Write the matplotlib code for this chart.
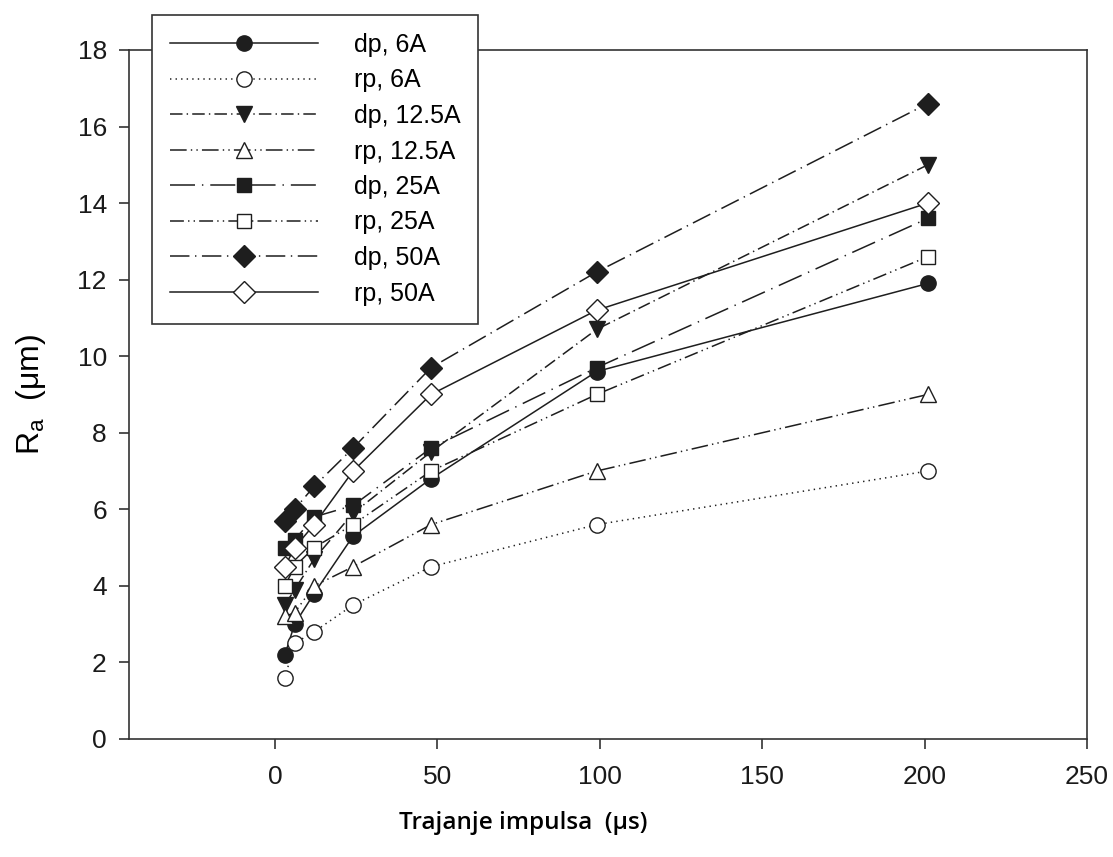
import matplotlib.pyplot as plt

plt.rcParams['font.family'] = ['Liberation Sans', 'DejaVu Sans']
plt.rcParams['lines.scale_dashes'] = False

# pulse duration (us)
t = [3, 6, 12, 24, 48, 99, 201]

dp_6 = [2.2, 3.0, 3.8, 5.3, 6.8, 9.6, 11.9]
rp_6 = [1.6, 2.5, 2.8, 3.5, 4.5, 5.6, 7.0]
dp_125 = [3.5, 3.9, 4.7, 5.9, 7.5, 10.7, 15.0]
rp_125 = [3.2, 3.3, 4.0, 4.5, 5.6, 7.0, 9.0]
dp_25 = [5.0, 5.2, 5.8, 6.1, 7.6, 9.7, 13.6]
rp_25 = [4.0, 4.5, 5.0, 5.6, 7.0, 9.0, 12.6]
dp_50 = [5.7, 6.0, 6.6, 7.6, 9.7, 12.2, 16.6]
rp_50 = [4.5, 5.0, 5.6, 7.0, 9.0, 11.2, 14.0]

labels = ['dp, 6A', 'rp, 6A', 'dp, 12.5A', 'rp, 12.5A',
          'dp, 25A', 'rp, 25A', 'dp, 50A', 'rp, 50A']

fig = plt.figure(figsize=(11.13, 8.57), dpi=100)
ax = fig.add_axes([0.1159, 0.1377, 0.8607, 0.804])

c = '#1e1e1e'
lw = 1.1
ax.plot(t, dp_6, '-', color=c, lw=lw, marker='o', ms=11, mfc=c, mec=c, label=labels[0])
ax.plot(t, rp_6, color=c, lw=lw, ls=(0, (1, 3)), marker='o', ms=11, mfc='white', mec=c, label=labels[1])
ax.plot(t, dp_125, color=c, lw=lw, ls=(0, (9, 3, 1, 3)), marker='v', ms=12, mfc=c, mec=c, label=labels[2])
ax.plot(t, rp_125, color=c, lw=lw, ls=(0, (12, 3, 1, 3, 1, 3)), marker='^', ms=12, mfc='white', mec=c, label=labels[3])
ax.plot(t, dp_25, color=c, lw=lw, ls=(0, (18, 5, 1, 5)), marker='s', ms=10.5, mfc=c, mec=c, label=labels[4])
ax.plot(t, rp_25, color=c, lw=lw, ls=(0, (10, 3, 1, 3, 1, 3)), marker='s', ms=10.5, mfc='white', mec=c, label=labels[5])
ax.plot(t, dp_50, color=c, lw=lw, ls=(0, (14, 4, 1, 4)), marker='D', ms=11, mfc=c, mec=c, label=labels[6])
ax.plot(t, rp_50, '-', color=c, lw=lw, marker='D', ms=11, mfc='white', mec=c, label=labels[7])

ax.set_xlim(-45, 250)
ax.set_ylim(0, 18)
ax.set_xticks([0, 50, 100, 150, 200, 250])
ax.set_yticks(range(0, 19, 2))
for s in ax.spines.values():
    s.set_color('#333333')
    s.set_linewidth(1.2)
ax.tick_params(direction='out', length=7, width=1.2, labelsize=19, colors='#333333',
               labelcolor='#1a1a1a')
ax.tick_params(axis='x', pad=12)
ax.tick_params(axis='y', pad=9)

ax.set_ylabel('R$_\\mathregular{a}$  (μm)', fontsize=23)
ax.yaxis.set_label_coords(-0.085, 0.5)
ax.set_xlabel('Trajanje impulsa  (μs)', fontsize=17.5, fontweight='semibold',
              family=['Open Sans', 'DejaVu Sans'])
ax.xaxis.set_label_coords((523 - 129) / (1087 - 129), -0.104)

leg = fig.legend(loc='upper left', bbox_to_anchor=(152 / 1113, 1 - 15 / 857),
                 borderaxespad=0, fontsize=18, handlelength=5.9, labelspacing=0.46,
                 handletextpad=1.44, borderpad=0.72, fancybox=False,
                 edgecolor='#333333', framealpha=1)
leg.get_frame().set_linewidth(1.2)

fig.savefig('out.png', dpi=100)
